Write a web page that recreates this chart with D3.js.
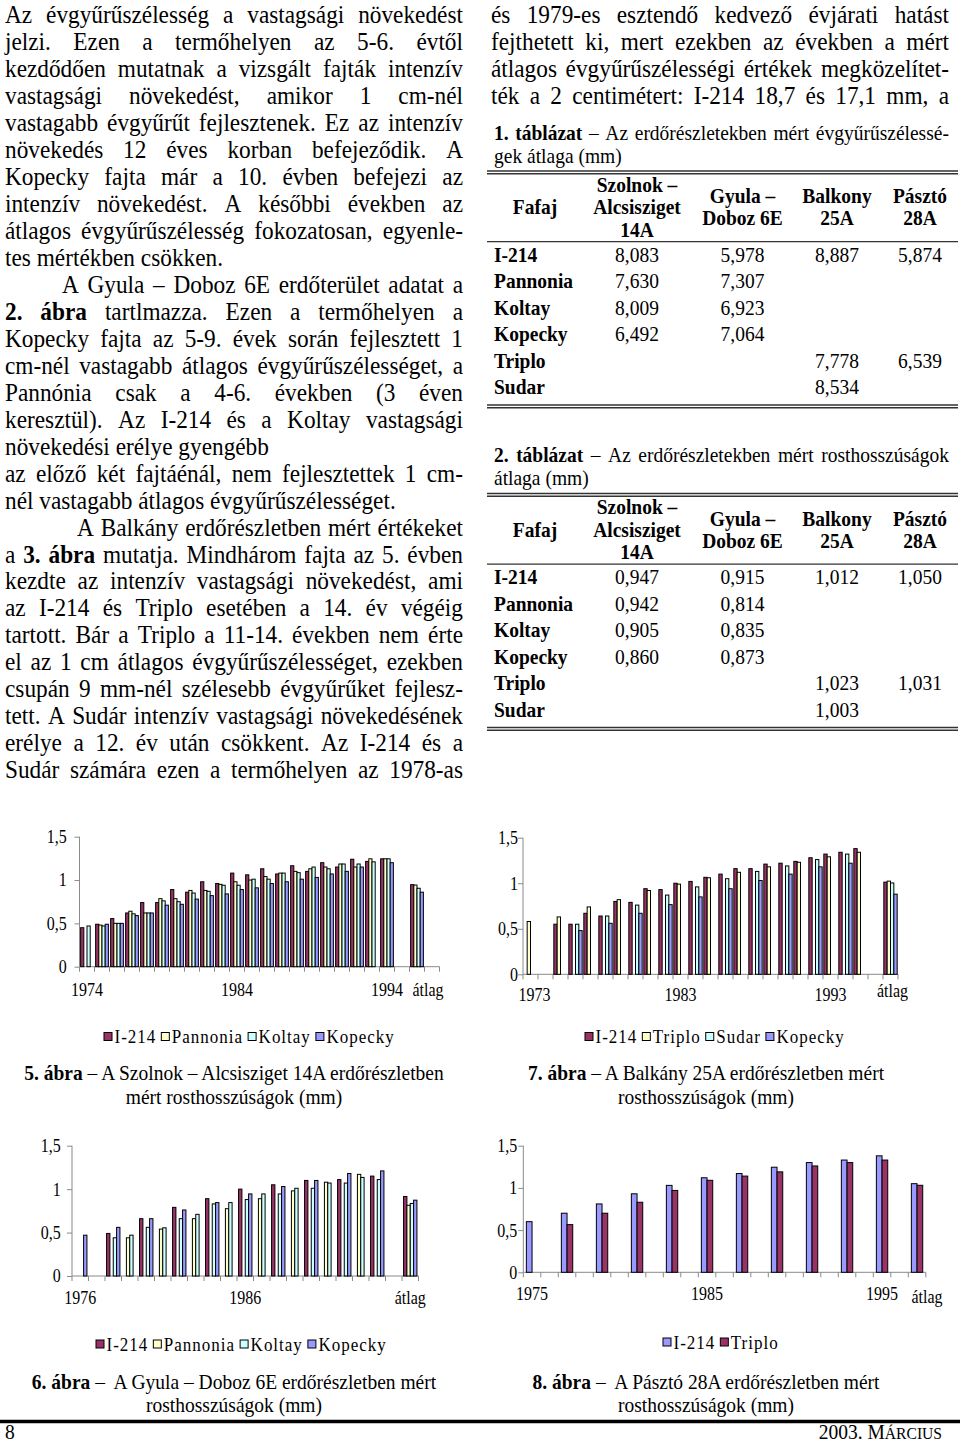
<!DOCTYPE html>
<html><head><meta charset="utf-8">
<script src="https://cdn.jsdelivr.net/npm/d3@7"></script>
<style>
html,body{margin:0;padding:0;background:#fff;}
svg{display:block;}
text{font-family:"Liberation Serif","Times New Roman",serif;fill:#000;white-space:pre;}
</style></head><body>
<svg id="page" width="960" height="1449"></svg>
<script>
// ---------------- DATA ----------------
const yTickValues = [0, 0.5, 1, 1.5];
const yTickLabels = ["0", "0,5", "1", "1,5"];

// Fig 5 – Szolnok – Alcsisziget 14A
const fig5Series = ["I-214", "Pannonia", "Koltay", "Kopecky"];
const fig5Categories = ["1974","1975","1976","1977","1978","1979","1980","1981","1982","1983","1984","1985","1986","1987","1988","1989","1990","1991","1992","1993","1994"," ","átlag","  "];
const fig5TickLabels = ["1974", "1984", "1994", "átlag"];
const fig5I214     = [0.45,0.49,0.555,0.62,0.74,0.74,0.89,0.86,0.98,0.96,1.08,1.06,1.13,1.07,1.165,1.10,1.20,1.15,1.24,1.215,1.245,null,0.947,null];
const fig5Pannonia = [null,0.48,0.50,0.64,0.62,0.785,0.785,0.88,0.88,0.95,0.98,1.00,1.04,1.08,1.10,1.13,1.15,1.185,1.15,1.245,1.245,null,0.942,null];
const fig5Koltay   = [0.47,0.47,0.50,0.61,0.62,0.76,0.75,0.85,0.87,0.94,0.94,1.01,1.01,1.08,1.085,1.15,1.13,1.185,1.185,1.21,1.245,null,0.905,null];
const fig5Kopecky  = [null,0.49,0.50,0.59,0.62,0.71,0.72,0.78,0.82,0.84,0.89,0.91,0.96,0.98,1.01,1.03,1.07,1.10,1.15,null,1.20,null,0.860,null];

// Fig 6 – Gyula – Doboz 6E
const fig6Series = ["I-214", "Pannonia", "Koltay", "Kopecky"];
const fig6Categories = ["1976","1977","1978","1979","1980","1981","1982","1983","1984","1985","1986","1987","1988","1989","1990","1991","1992","1993","1994"," ","átlag"];
const fig6TickLabels = ["1976", "1986", "átlag"];
const fig6I214     = [null,null,0.49,null,0.66,null,0.79,null,0.89,null,1.00,null,1.05,null,1.10,null,1.11,null,1.15,null,0.915];
const fig6Pannonia = [null,null,null,0.44,null,0.54,null,0.66,null,0.775,null,0.89,null,0.98,null,1.08,null,1.17,null,null,0.814];
const fig6Koltay   = [null,null,0.44,0.47,0.56,0.555,0.66,0.71,0.83,0.845,0.88,0.945,0.945,1.01,1.01,1.07,1.07,1.135,1.11,null,0.835];
const fig6Kopecky  = [0.47,null,0.56,null,0.66,null,0.76,null,0.845,null,0.945,null,1.03,null,1.10,null,1.18,null,1.21,null,0.873];

// Fig 7 – Balkány 25A
const fig7Series = ["I-214", "Triplo", "Sudar", "Kopecky"];
const fig7Categories = ["1973","1974","1975","1976","1977","1978","1979","1980","1981","1982","1983","1984","1985","1986","1987","1988","1989","1990","1991","1992","1993","1994","1995"," ","átlag"];
const fig7TickLabels = ["1973", "1983", "1993", "átlag"];
const fig7I214    = [null,null,0.55,0.55,0.67,0.64,0.80,0.79,0.94,0.93,1.00,1.02,1.065,1.10,1.16,1.16,1.21,1.22,1.24,1.28,1.32,1.34,1.38,null,1.012];
const fig7Triplo  = [0.58,null,0.63,null,0.74,null,0.82,null,0.92,null,0.99,null,1.06,null,1.12,null,1.18,null,1.23,null,1.29,null,1.34,null,1.023];
const fig7Sudar   = [null,null,null,0.55,null,0.64,null,0.76,null,0.87,null,0.96,null,1.05,null,1.13,null,1.19,null,1.26,null,1.32,null,null,1.003];
const fig7Kopecky = [null,null,null,0.48,null,0.56,null,0.67,null,0.765,null,0.85,null,0.94,null,1.03,null,1.10,null,1.18,null,1.22,null,null,0.88];

// Fig 8 – Pásztó 28A
const fig8Series = ["I-214", "Triplo"];
const fig8Categories = ["1975","1976","1977","1978","1979","1980","1981","1982","1983","1984","1985","1986","1987","1988","1989","1990","1991","1992","1993","1994","1995"," ","átlag"];
const fig8TickLabels = ["1975", "1985", "1995", "átlag"];
const fig8I214   = [0.60,null,0.70,null,0.81,null,0.93,null,1.03,null,1.12,null,1.17,null,1.245,null,1.30,null,1.33,null,1.38,null,1.050];
const fig8Triplo = [null,null,0.565,null,0.70,null,0.83,null,0.97,null,1.09,null,1.14,null,1.19,null,1.26,null,1.30,null,1.33,null,1.031];

// Tables
const tableHeaders = [["Fafaj"], ["Szolnok –", "Alcsisziget", "14A"], ["Gyula –", "Doboz 6E"], ["Balkony", "25A"], ["Pásztó", "28A"]];
const tableSpecies = ["I-214", "Pannonia", "Koltay", "Kopecky", "Triplo", "Sudar"];
const table1Values = [["8,083","5,978","8,887","5,874"],["7,630","7,307","",""],["8,009","6,923","",""],["6,492","7,064","",""],["","","7,778","6,539"],["","","8,534",""]];
const table2Values = [["0,947","0,915","1,012","1,050"],["0,942","0,814","",""],["0,905","0,835","",""],["0,860","0,873","",""],["","","1,023","1,031"],["","","1,003",""]];

// Body text
const leftColumn = [
 "Az évgyűrűszélesség a vastagsági növekedést",
 "jelzi. Ezen a termőhelyen az 5-6. évtől",
 "kezdődően mutatnak a vizsgált fajták intenzív",
 "vastagsági növekedést, amikor 1 cm-nél",
 "vastagabb évgyűrűt fejlesztenek. Ez az intenzív",
 "növekedés 12 éves korban befejeződik. A",
 "Kopecky fajta már a 10. évben befejezi az",
 "intenzív növekedést. A későbbi években az",
 "átlagos évgyűrűszélesség fokozatosan, egyenle-",
 "tes mértékben csökken.",
 "A Gyula – Doboz 6E erdőterület adatat a",
 "**2. ábra** tartlmazza. Ezen a termőhelyen a",
 "Kopecky fajta az 5-9. évek során fejlesztett 1",
 "cm-nél vastagabb átlagos évgyűrűszélességet, a",
 "Pannónia csak a 4-6. években (3 éven",
 "keresztül). Az I-214 és a Koltay vastagsági",
 "növekedési erélye gyengébb",
 "az előző két fajtáénál, nem fejlesztettek 1 cm-",
 "nél vastagabb átlagos évgyűrűszélességet.",
 "A Balkány erdőrészletben mért értékeket",
 "a **3. ábra** mutatja. Mindhárom fajta az 5. évben",
 "kezdte az intenzív vastagsági növekedést, ami",
 "az I-214 és Triplo esetében a 14. év végéig",
 "tartott. Bár a Triplo a 11-14. években nem érte",
 "el az 1 cm átlagos évgyűrűszélességet, ezekben",
 "csupán 9 mm-nél szélesebb évgyűrűket fejlesz-",
 "tett. A Sudár intenzív vastagsági növekedésének",
 "erélye a 12. év után csökkent. Az I-214 és a",
 "Sudár számára ezen a termőhelyen az 1978-as"
];
const leftIndents = {10: 62, 19: 77};
const leftRagged = [9, 16, 18];
const rightColumn = [
 "és 1979-es esztendő kedvező évjárati hatást",
 "fejthetett ki, mert ezekben az években a mért",
 "átlagos évgyűrűszélességi értékek megközelítet-",
 "ték a 2 centimétert: I-214 18,7 és 17,1 mm, a"
];

// ---------------- DRAWING ----------------
const S = 1.1;
const svg = d3.select("#page");
const tmp = svg.append("text").attr("x", -1000).attr("y", -1000);
function measure(str, size, bold, ls) {
  tmp.attr("font-size", size).attr("font-weight", bold ? "bold" : "normal")
     .attr("letter-spacing", ls || 0).text(str);
  return tmp.node().getComputedTextLength();
}
function stext(parent, x, y, str, size, opts = {}) {
  const t = parent.append("text")
    .attr("transform", `translate(${x},${y}) scale(1,${opts.S || S})`)
    .attr("font-size", size)
    .attr("text-anchor", opts.anchor || "start");
  if (opts.bold) t.attr("font-weight", "bold");
  if (opts.ls) t.attr("letter-spacing", opts.ls);
  str.split("**").forEach((s, i) => {
    if (!s) return;
    const ts = t.append("tspan").text(s);
    if (i % 2 === 1) ts.attr("font-weight", "bold");
  });
  return t;
}
function jline(parent, x0, x1, y, str, size, justify) {
  const words = []; let bold = false;
  str.split(" ").filter(w => w.length).forEach(w => {
    let b = bold;
    if (w.startsWith("**")) { w = w.slice(2); b = true; bold = true; }
    if (w.endsWith("**")) { w = w.slice(0, -2); bold = false; }
    words.push({ w, b, width: 0 });
  });
  let total = 0;
  words.forEach(d => { d.width = measure(d.w, size, d.b); total += d.width; });
  let gap = size * 0.25;
  if (justify && words.length > 1) gap = (x1 - x0 - total) / (words.length - 1);
  const g = parent.append("g").attr("transform", `translate(0,${y}) scale(1,${S})`);
  let x = x0;
  words.forEach(d => {
    const t = g.append("text").attr("x", x).attr("y", 0).attr("font-size", size).text(d.w);
    if (d.b) t.attr("font-weight", "bold");
    x += d.width + gap;
  });
}

// body text
const bodySize = 23.3, base0 = 23.3, lineStep = 26.96;
const body = svg.append("g");
leftColumn.forEach((l, i) => {
  const x0 = leftIndents[i] !== undefined ? leftIndents[i] : 5;
  jline(body, x0, 463, base0 + i * lineStep, l, bodySize, !leftRagged.includes(i));
});
rightColumn.forEach((l, i) => {
  jline(body, 491, 949, base0 + i * lineStep, l, bodySize, true);
});

// tables
function drawTable(offY, captionLines, values) {
  const g = svg.append("g");
  const ts = 19.5;
  jline(g, 494, 949, 139.5 + offY, captionLines[0], ts, true);
  jline(g, 494, 949, 162.5 + offY, captionLines[1], ts, false);
  const rule = (y, w) => g.append("line").attr("x1", 487).attr("x2", 958).attr("y1", y).attr("y2", y)
      .attr("stroke", "#333").attr("stroke-width", w);
  rule(171 + offY, 1.4); rule(173.8 + offY, 1.4);
  rule(241.7 + offY, 1.2);
  rule(405 + offY, 1.4); rule(407.8 + offY, 1.4);
  const colX = [535, 637, 742.5, 837, 920];
  tableHeaders.forEach((h, ci) => {
    let bases;
    if (h.length === 1) bases = [214];
    else if (h.length === 2) bases = [203.3, 225.3];
    else bases = [191.7, 214, 236.7];
    h.forEach((s, k) => stext(g, colX[ci], bases[k] + offY, s, ts, { anchor: "middle", bold: true }));
  });
  tableSpecies.forEach((sp, ri) => {
    const yb = 261.7 + ri * 26.46 + offY;
    stext(g, 494, yb, sp, ts, { bold: true });
    values[ri].forEach((v, ci) => { if (v) stext(g, colX[ci + 1], yb, v, ts, { anchor: "middle" }); });
  });
}
drawTable(0, ["**1. táblázat** – Az erdőrészletekben mért évgyűrűszélessé-", "gek átlaga (mm)"], table1Values);
drawTable(322.5, ["**2. táblázat** – Az erdőrészletekben mért rosthosszúságok", "átlaga (mm)"], table2Values);

// charts
function drawChart(cfg) {
  const g = svg.append("g");
  const n = cfg.cats.length;
  const x = d3.scaleBand().domain(cfg.cats).range([cfg.x0, cfg.x0 + cfg.band * n]).padding(0);
  const y = d3.scaleLinear().domain([0, 1.5]).range([cfg.y0, cfg.y15]);
  const xs = d3.scaleBand().domain(cfg.series).range([cfg.band * cfg.pad / 2, cfg.band * (1 - cfg.pad / 2)]);
  const axisColor = "#8a8a8a";
  // y axis
  const ya = g.append("g").attr("transform", `translate(${cfg.x0},0)`)
    .call(d3.axisLeft(y).tickValues(yTickValues).tickFormat((d, i) => yTickLabels[i])
      .tickSize(5).tickPadding(cfg.x0 - cfg.labelRight - 5));
  ya.select(".domain").attr("stroke", axisColor).attr("d", `M0,${cfg.y0}V${cfg.y15}`);
  ya.selectAll(".tick line").attr("stroke", axisColor);
  ya.attr("font-family", null).attr("font-size", null);
  ya.selectAll(".tick text").attr("font-size", 16).attr("fill", "#000")
    .attr("transform", `scale(1,1.12)`).attr("dy", "0.33em");
  // x axis line + ticks at category boundaries
  const xEnd = cfg.x0 + cfg.band * n;
  g.append("line").attr("x1", cfg.x0).attr("x2", xEnd).attr("y1", cfg.y0).attr("y2", cfg.y0).attr("stroke", axisColor);
  cfg.cats.forEach(c => {
    g.append("line").attr("x1", x(c)).attr("x2", x(c)).attr("y1", cfg.y0).attr("y2", cfg.y0 + 5).attr("stroke", axisColor);
  });
  g.append("line").attr("x1", xEnd).attr("x2", xEnd).attr("y1", cfg.y0).attr("y2", cfg.y0 + 5).attr("stroke", axisColor);
  // bars
  cfg.series.forEach((s, si) => {
    const vals = cfg.values[si];
    g.append("g").selectAll("rect")
      .data(cfg.cats.map((c, i) => ({ c, v: vals[i] })).filter(d => d.v != null))
      .join("rect")
      .attr("x", d => x(d.c) + xs(s))
      .attr("width", xs.bandwidth())
      .attr("y", d => y(d.v))
      .attr("height", d => y(0) - y(d.v))
      .attr("fill", cfg.colors[si])
      .attr("stroke", "#000").attr("stroke-width", 1);
  });
  // x labels
  cfg.tickLabels.forEach(l => {
    const isAvg = l === "átlag";
    stext(g, x(l) + x.bandwidth() / 2 + (isAvg ? cfg.avgDx : 0) + (l === cfg.tickLabels[0] ? cfg.firstDx || 0 : 0),
      isAvg ? cfg.avgBase : cfg.labelBase, l, 16, { anchor: "middle", S: 1.12 });
  });
  // legend
  let lx = cfg.legendX;
  const lls = 1;
  cfg.series.forEach((s, si) => {
    g.append("rect").attr("x", lx).attr("y", cfg.legendY - 10.5).attr("width", 8).attr("height", 8)
      .attr("fill", cfg.colors[si]).attr("stroke", "#000").attr("stroke-width", 1);
    stext(g, lx + 10.5, cfg.legendY, s, 17, { ls: lls });
    lx += 10.5 + measure(s, 17, false, lls) + 5;
  });
  // caption
  stext(g, cfg.capX, cfg.capY, cfg.caption[0], 19.5, { anchor: "middle" });
  stext(g, cfg.capX, cfg.capY + 23.5, cfg.caption[1], 19.5, { anchor: "middle" });
}

const cI214 = "#993366", cPannonia = "#FFFFCC", cKoltay = "#CCFFFF", cKopecky = "#9999FF";

drawChart({ cats: fig5Categories, series: fig5Series, values: [fig5I214, fig5Pannonia, fig5Koltay, fig5Kopecky],
  colors: [cI214, cPannonia, cKoltay, cKopecky], x0: 79.5, band: 15, pad: 0.15,
  y0: 966.7, y15: 836.7, labelRight: 66.7, tickLabels: fig5TickLabels, labelBase: 995.7, avgBase: 995.7, avgDx: 11,
  legendX: 104, legendY: 1043, capX: 234, capY: 1080,
  caption: ["**5. ábra** – A Szolnok – Alcsisziget 14A erdőrészletben", "mért rosthosszúságok (mm)"] });

drawChart({ cats: fig7Categories, series: fig7Series, values: [fig7I214, fig7Triplo, fig7Sudar, fig7Kopecky],
  colors: [cI214, cPannonia, cKoltay, cKopecky], x0: 523, band: 15, pad: 0.11,
  y0: 974.3, y15: 837.7, labelRight: 518, tickLabels: fig7TickLabels, labelBase: 1000.5, avgBase: 997, avgDx: 2, firstDx: 4,
  legendX: 585, legendY: 1043, capX: 706, capY: 1080,
  caption: ["**7. ábra** – A Balkány 25A erdőrészletben mért", "rosthosszúságok (mm)"] });

drawChart({ cats: fig6Categories, series: fig6Series, values: [fig6I214, fig6Pannonia, fig6Koltay, fig6Kopecky],
  colors: [cI214, cPannonia, cKoltay, cKopecky], x0: 72, band: 16.5, pad: 0.19,
  y0: 1276, y15: 1145.7, labelRight: 60.7, tickLabels: fig6TickLabels, labelBase: 1304, avgBase: 1304, avgDx: 0,
  legendX: 96, legendY: 1350.5, capX: 234, capY: 1388.5,
  caption: ["**6. ábra** –  A Gyula – Doboz 6E erdőrészletben mért", "rosthosszúságok (mm)"] });

drawChart({ cats: fig8Categories, series: fig8Series, values: [fig8I214, fig8Triplo],
  colors: [cKopecky, cI214], x0: 523.3, band: 17.5, pad: 0.35,
  y0: 1272.3, y15: 1145.7, labelRight: 517.3, tickLabels: fig8TickLabels, labelBase: 1300, avgBase: 1303, avgDx: 10,
  legendX: 663, legendY: 1348.5, capX: 706, capY: 1388.5,
  caption: ["**8. ábra** –  A Pásztó 28A erdőrészletben mért", "rosthosszúságok (mm)"] });

// footer
svg.append("line").attr("x1", 0).attr("x2", 960).attr("y1", 1421.5).attr("y2", 1421.5).attr("stroke", "#000").attr("stroke-width", 3.5);
stext(svg, 5, 1438.5, "8", 19.5, {});
const ft = svg.append("text").attr("transform", `translate(942,1438.5) scale(1,${S})`).attr("font-size", 19.5).attr("text-anchor", "end");
ft.append("tspan").text("2003. M");
ft.append("tspan").attr("font-size", 15.6).text("ÁRCIUS");
tmp.remove();
</script>
</body></html>
